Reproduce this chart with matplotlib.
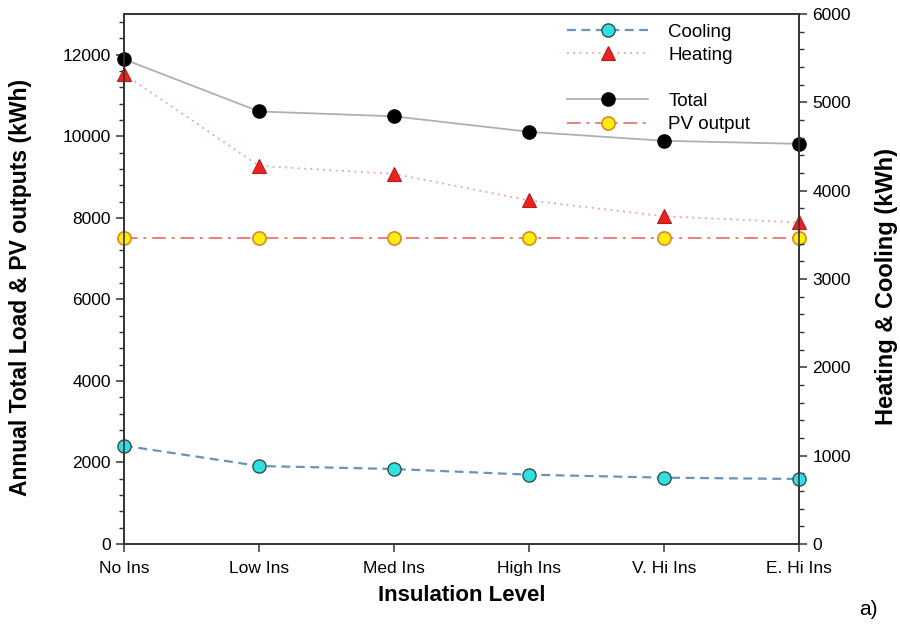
import numpy as np
import matplotlib.pyplot as plt
from matplotlib.lines import Line2D
from matplotlib.ticker import MultipleLocator

plt.rcParams['font.family'] = ['Liberation Sans', 'DejaVu Sans']

levels = ['No Ins', 'Low Ins', 'Med Ins', 'High Ins', 'V. Hi Ins', 'E. Hi Ins']
total = [11890, 10610, 10490, 10110, 9890, 9815]
pv_output = [7500, 7500, 7500, 7500, 7500, 7500]
heating = [5320, 4280, 4190, 3890, 3710, 3640]
cooling = [1113, 883, 849, 785, 751, 736]

x = np.arange(len(levels))

fig = plt.figure(figsize=(9, 6.25), dpi=100)
ax = fig.add_axes([0.1378, 0.1296, 0.75, 0.848])
ax2 = ax.twinx()

# left axis: total and PV
l_total, = ax.plot(x, total, '-', color='#b0b0b0', lw=1.3, marker='o', ms=9.5,
                   mfc='black', mec='black', zorder=3, clip_on=False)
l_pv, = ax.plot(x, pv_output, color='#e8807a', lw=1.4, ls=(0, (7, 3, 1.5, 3)),
                marker='o', ms=9.5, mfc='#ffee10', mec='#d98a20', mew=1.2, zorder=3,
                clip_on=False)

# right axis: heating and cooling
l_heat, = ax2.plot(x, heating, color='#f0a0a0', lw=1.3, ls=(0, (1, 2.5)),
                   marker='^', ms=9.5, mfc='#ee2020', mec='#b02020', mew=0.8,
                   clip_on=False)
l_cool, = ax2.plot(x, cooling, color='#6b93b8', lw=1.6, ls=(0, (4, 2.5)),
                   marker='o', ms=9.5, mfc='#30e0e0', mec='#305050', mew=1.0,
                   clip_on=False)

ax.set_xlim(0, 5)
ax.set_ylim(0, 13000)
ax2.set_ylim(0, 6000)
ax.set_xticks(x)
ax.set_xticklabels(levels)
ax.set_yticks(np.arange(0, 12001, 2000))
ax.yaxis.set_minor_locator(MultipleLocator(400))
ax2.set_yticks(np.arange(0, 6001, 1000))
ax2.yaxis.set_minor_locator(MultipleLocator(200))

for a in (ax, ax2):
    a.tick_params(axis='both', which='major', labelsize=12.5, length=6, width=1.1,
                  direction='out', color='#333333')
    a.tick_params(axis='y', which='minor', length=3.5, width=1, color='#333333')
    for s in a.spines.values():
        s.set_color('#333333')
        s.set_linewidth(1.2)
ax.tick_params(axis='x', pad=6)

ax.set_xlabel('Insulation Level', fontsize=16, fontweight='bold')
ax.xaxis.set_label_coords(0.5, -0.077)
ax.set_ylabel('Annual Total Load & PV outputs (kWh)', fontsize=16.5, fontweight='bold')
ax.yaxis.set_label_coords(-0.136, 0.485)
ax2.set_ylabel('Heating & Cooling (kWh)', fontsize=17, fontweight='bold')
ax2.yaxis.set_label_coords(1.112, 0.485)

blank = Line2D([], [], color='none')
ax2.legend([l_cool, l_heat, blank, l_total, l_pv],
           ['Cooling', 'Heating', '', 'Total', 'PV output'],
           loc='upper left', bbox_to_anchor=(0.657, 0.982), frameon=False,
           fontsize=13.5, handlelength=4.27, handletextpad=1.1, labelspacing=0.32,
           borderpad=0, borderaxespad=0)

fig.text(0.965, 0.01, 'a)', fontsize=15, ha='center', va='bottom')

fig.savefig('out.png', dpi=100)
